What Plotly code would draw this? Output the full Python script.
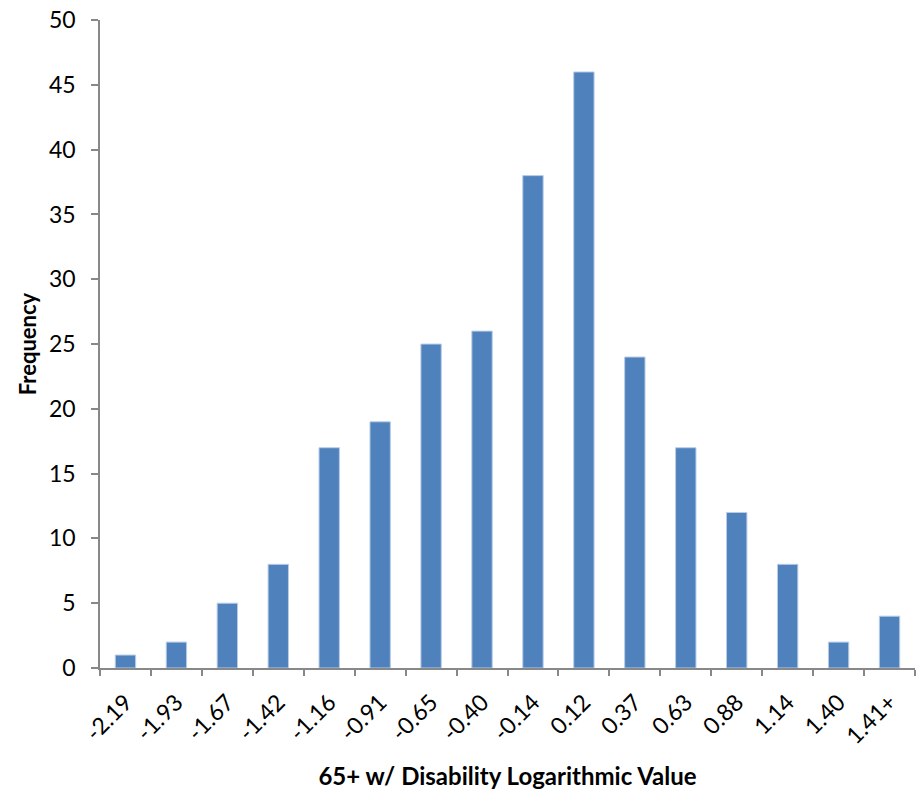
import plotly.graph_objects as go

categories = ["-2.19", "-1.93", "-1.67", "-1.42", "-1.16", "-0.91", "-0.65", "-0.40",
              "-0.14", "0.12", "0.37", "0.63", "0.88", "1.14", "1.40", "1.41+"]
frequency = [1, 2, 5, 8, 17, 19, 25, 26, 38, 46, 24, 17, 12, 8, 2, 4]
y_ticks = [0, 5, 10, 15, 20, 25, 30, 35, 40, 45, 50]

fig = go.Figure(go.Bar(
    x=categories, y=frequency,
    marker=dict(color="#4F81BD", line=dict(color="#B9CDE5", width=1)),
    width=0.4,
))

font = "Lato, Carlito, Calibri, sans-serif"
fig.update_layout(
    width=920, height=792,
    margin=dict(l=100, r=5, t=20, b=124),
    paper_bgcolor="white", plot_bgcolor="white",
    font=dict(family=font, color="black", size=24),
    showlegend=False,
    xaxis=dict(
        type="category",
        showline=True, linecolor="#888888", linewidth=1.5,
        ticks="outside", tickson="boundaries", ticklen=6, tickcolor="#888888", tickwidth=1.5,
        tickangle=-45, tickfont=dict(size=23), ticklabelstandoff=10,
        title=dict(text="<b>65+ w/ Disability Logarithmic Value</b>", font=dict(size=24), standoff=20),
        showgrid=False,
    ),
    yaxis=dict(
        range=[0, 50.01], tickmode="array", tickvals=y_ticks,
        showline=True, linecolor="#888888", linewidth=1.5,
        ticks="outside", ticklen=7, tickcolor="#888888", tickwidth=1.5,
        tickfont=dict(size=23), ticklabelstandoff=11,
        title=dict(text="<b>Frequency</b>", font=dict(size=22), standoff=6),
        showgrid=False, zeroline=False,
    ),
)

fig.write_html("out.html", config={"displayModeBar": False},
               post_script="document.body.style.margin='0';")
